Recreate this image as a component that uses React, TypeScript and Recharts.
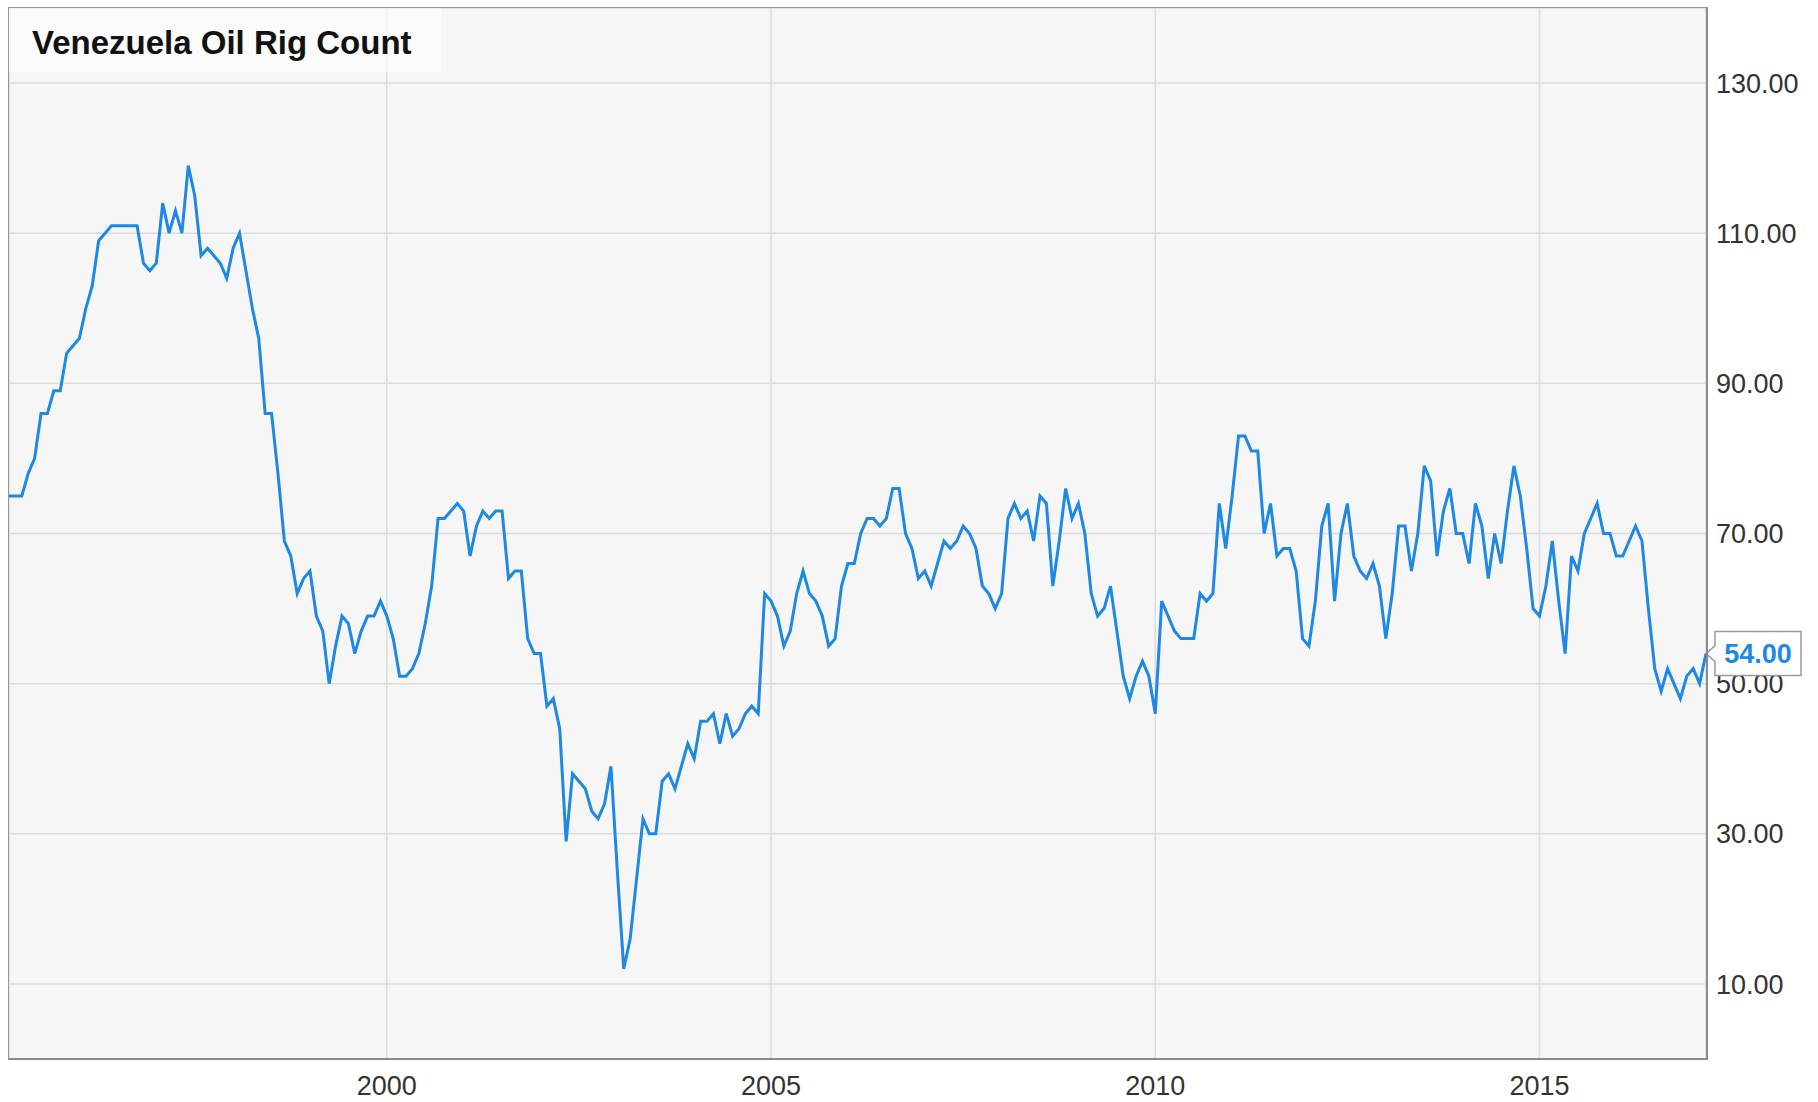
import { LineChart, Line, XAxis, YAxis, CartesianGrid } from 'recharts';

// monthly Baker Hughes readings, first one is Feb 1995
const START_YEAR = 1995;
const START_MONTH = 2;

const rigCount = [
  75, 75, 75, 78, 80, 86, 86, 89, 89, 94, 95, // 1995 (Feb-Dec)
  96, 100, 103, 109, 110, 111, 111, 111, 111, 111, 106, 105, // 1996
  106, 114, 110, 113, 110, 119, 115, 107, 108, 107, 106, 104, // 1997
  108, 110, 105, 100, 96, 86, 86, 78, 69, 67, 62, 64, // 1998
  65, 59, 57, 50, 55, 59, 58, 54, 57, 59, 59, 61, // 1999
  59, 56, 51, 51, 52, 54, 58, 63, 72, 72, 73, 74, // 2000
  73, 67, 71, 73, 72, 73, 73, 64, 65, 65, 56, 54, // 2001
  54, 47, 48, 44, 29, 38, 37, 36, 33, 32, 34, 39, // 2002
  25, 12, 16, 24, 32, 30, 30, 37, 38, 36, 39, 42, // 2003
  40, 45, 45, 46, 42, 46, 43, 44, 46, 47, 46, 62, // 2004
  61, 59, 55, 57, 62, 65, 62, 61, 59, 55, 56, 63, // 2005
  66, 66, 70, 72, 72, 71, 72, 76, 76, 70, 68, 64, // 2006
  65, 63, 66, 69, 68, 69, 71, 70, 68, 63, 62, 60, // 2007
  62, 72, 74, 72, 73, 69, 75, 74, 63, 69, 76, 72, // 2008
  74, 70, 62, 59, 60, 63, 57, 51, 48, 51, 53, 51, // 2009
  46, 61, 59, 57, 56, 56, 56, 62, 61, 62, 74, 68, // 2010
  75, 83, 83, 81, 81, 70, 74, 67, 68, 68, 65, 56, // 2011
  55, 61, 71, 74, 61, 70, 74, 67, 65, 64, 66, 63, // 2012
  56, 62, 71, 71, 65, 70, 79, 77, 67, 73, 76, 70, // 2013
  70, 66, 74, 71, 64, 70, 66, 73, 79, 75, 68, 60, // 2014
  59, 63, 69, 61, 54, 67, 65, 70, 72, 74, 70, 70, // 2015
  67, 67, 69, 71, 69, 60, 52, 49, 52, 50, 48, 51, // 2016
  52, 50, 54, // 2017
];

const xTicks = [2000, 2005, 2010, 2015];
const yTicks = [10, 30, 50, 70, 90, 110, 130];

const data = rigCount.map((v, i) => ({
  t: START_YEAR + (START_MONTH - 1 + i) / 12,
  rigs: v,
}));

const FONT = '"Liberation Sans", Arial, Helvetica, sans-serif';
const BLUE = '#1e88e5';

// callout box with the latest reading, pinned to the last point
function LastValueTag(props: any) {
  const { x, y, index, value } = props;
  if (index !== rigCount.length - 1) return null;
  const arrow = 9;
  const w = 86;
  const h = 44;
  const bx = x + arrow;
  const d = `M${x},${y} L${bx},${y - 8} L${bx},${y - h / 2} L${bx + w},${y - h / 2} L${bx + w},${y + h / 2} L${bx},${y + h / 2} L${bx},${y + 8} Z`;
  return (
    <g>
      <path d={d} fill="#fff" stroke="#9a9a9a" strokeWidth={1.5} />
      <text x={bx + w / 2} y={y} dy="0.36em" textAnchor="middle" fill={BLUE}
        fontWeight="bold" fontSize={27} fontFamily={FONT}>
        {Number(value).toFixed(2)}
      </text>
    </g>
  );
}

export default function App() {
  return (
    <div style={{ position: 'absolute', left: 0, top: 0, width: 1818, height: 1102, background: '#fff' }}>
      <LineChart width={1818} height={1102} data={data} margin={{ top: 8, left: 9, right: 0, bottom: 0 }}>
        <CartesianGrid fill="#f6f6f6" stroke="#dcdcdc" strokeWidth={1.5} />
        <XAxis dataKey="t" type="number" domain={['dataMin', 'dataMax']} ticks={xTicks}
          height={43} tickLine={false} axisLine={false} tickSize={0} tickMargin={17}
          tick={{ fill: '#333', fontSize: 27, fontFamily: FONT }} />
        <YAxis orientation="right" domain={[0, 140]} ticks={yTicks} width={112}
          tickLine={false} axisLine={false} tickSize={0} tickMargin={10}
          tickFormatter={(v: number) => v.toFixed(2)}
          tick={{ fill: '#333', fontSize: 27, fontFamily: FONT }} />
        <Line dataKey="rigs" stroke={BLUE} strokeWidth={3} dot={false}
          isAnimationActive={false} label={<LastValueTag />} />
      </LineChart>
      {/* plot frame */}
      <div style={{
        position: 'absolute', left: 8, top: 7, width: 1697, height: 1050,
        borderTop: '1px solid #999', borderLeft: '1px solid #999',
        borderRight: '2px solid #8c8c8c', borderBottom: '2px solid #8c8c8c',
        pointerEvents: 'none',
      }} />
      {/* title */}
      <div style={{
        position: 'absolute', left: 9, top: 8, width: 432, height: 64,
        background: 'rgba(255,255,255,0.6)', fontFamily: FONT, fontWeight: 'bold',
        fontSize: 33, color: '#111', lineHeight: '70px', paddingLeft: 23,
        boxSizing: 'border-box', whiteSpace: 'nowrap',
      }}>
        Venezuela Oil Rig Count
      </div>
    </div>
  );
}
